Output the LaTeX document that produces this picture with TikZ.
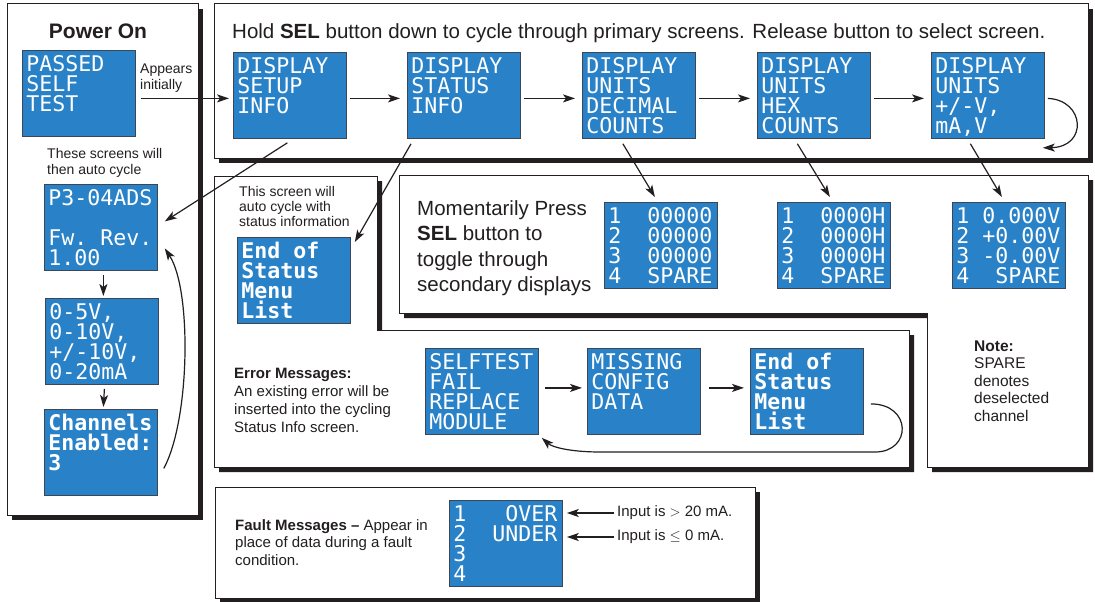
\documentclass[tikz,border=0pt]{standalone}
\usepackage{fontspec}
\setmainfont{Liberation Sans}
\newfontfamily\lcdfam{DejaVu Sans Mono}
\usetikzlibrary{arrows.meta}
\definecolor{lcdblue}{RGB}{41,130,199}
\definecolor{lcdedge}{RGB}{60,70,85}
\definecolor{ink}{RGB}{35,31,32}
\newcommand{\lcd}[1]{\begin{minipage}[t][86pt][t]{105pt}\fontsize{21.6}{20}\selectfont\lcdfam\lineskiplimit=-100pt\lineskip=0pt\color{white}\rule{0pt}{21pt}#1\end{minipage}}
\newcommand{\lcdb}[1]{\begin{minipage}[t][86pt][t]{105pt}\fontsize{21.6}{20}\selectfont\lcdfam\bfseries\lineskiplimit=-100pt\lineskip=0pt\color{white}\rule{0pt}{21pt}#1\end{minipage}}
\begin{document}
\begin{tikzpicture}[x=1pt,y=-1pt,
  frame/.style={fill=white, draw=ink, line width=1pt},
  shade/.style={fill=ink},
  screen/.style={fill=lcdblue, draw=lcdedge, line width=0.8pt, inner xsep=4pt, inner ysep=0pt, anchor=north west},
  arr/.style={draw=ink, line width=1.2pt, -{Stealth[length=12pt,width=8pt,inset=3pt]}},
  lbl/.style={inner sep=0pt, anchor=base west, text=ink}]
\useasboundingbox (0,0) rectangle (1095,602);
% frames with drop shadows
\fill[shade, shift={(5,5)}] (7,4) rectangle (198,515);
\draw[frame] (7,4) rectangle (198,515);
\fill[shade, shift={(5,5)}] (214,4) rectangle (1088,158);
\draw[frame] (214,4) rectangle (1088,158);
\fill[shade, shift={(5,5)}] (214,176) -- (377,176) -- (377,330) -- (909,330) -- (909,467) -- (214,467) -- cycle;
\draw[frame] (214,176) -- (377,176) -- (377,330) -- (909,330) -- (909,467) -- (214,467) -- cycle;
\fill[shade, shift={(5,5)}] (399,175) -- (1088,175) -- (1088,467) -- (927,467) -- (927,313) -- (399,313) -- cycle;
\draw[frame] (399,175) -- (1088,175) -- (1088,467) -- (927,467) -- (927,313) -- (399,313) -- cycle;
\fill[shade, shift={(5,5)}] (215,487) rectangle (755,598);
\draw[frame] (215,487) rectangle (755,598);
% texts
\node[lbl, anchor=base, font=\bfseries\fontsize{21}{24}\selectfont] (pon) at (98,39) {Power On};
\node[lbl, font=\fontsize{20.5}{24}\selectfont] (hold) at (232,39) {Hold \textbf{SEL} button down to cycle through primary screens. Release button to select screen.};
\node[lbl, font=\fontsize{14}{16}\selectfont] (app) at (140,74) {\parbox[t]{60pt}{Appears\\initially}};
\node[lbl, font=\fontsize{14}{16}\selectfont] (these) at (47,158) {\parbox[t]{140pt}{These screens will\\then auto cycle}};
\node[lbl, font=\fontsize{14}{15}\selectfont] (this) at (239,196) {\parbox[t]{135pt}{This screen will\\auto cycle with\\status information}};
\node[lbl, font=\fontsize{20.5}{25.5}\selectfont] (mom) at (417,215) {\parbox[t]{190pt}{Momentarily Press\\\textbf{SEL} button to\\toggle through\\secondary displays}};
\node[lbl, font=\fontsize{15}{18}\selectfont] (errt) at (234,378) {\parbox[t]{185pt}{\textbf{Error Messages:}\\An existing error will be\\inserted into the cycling\\Status Info screen.}};
\node[lbl, font=\fontsize{15.5}{17.5}\selectfont] (note) at (974,351) {\parbox[t]{100pt}{\textbf{Note:}\\SPARE\\denotes\\deselected\\channel}};
\node[lbl, font=\fontsize{15}{17.5}\selectfont] (fltt) at (235,530) {\parbox[t]{210pt}{\textbf{Fault Messages –} Appear in\\place of data during a fault\\condition.}};
\node[lbl, anchor=west, font=\fontsize{15}{18}\selectfont] (in1) at (617,513) {Input is $>$ 20 mA.};
\node[lbl, anchor=west, font=\fontsize{15}{18}\selectfont] (in2) at (617,537) {Input is $\le$ 0 mA.};
% screens
\node[screen] (pst) at (22,50) {\lcd{PASSED\\SELF\\TEST}};
\node[screen] (p3) at (44,184) {\lcd{P3-04ADS\\\mbox{}\\Fw.\ Rev.\\1.00}};
\node[screen] (rng) at (45,298) {\lcd{0-5V,\\0-10V,\\+/-10V,\\0-20mA}};
\node[screen] (chn) at (44,409) {\lcdb{Channels\\Enabled:\\3}};
\node[screen] (ds1) at (233,52) {\lcd{DISPLAY\\SETUP\\INFO}};
\node[screen] (ds2) at (407,52) {\lcd{DISPLAY\\STATUS\\INFO}};
\node[screen] (ds3) at (582,52) {\lcd{DISPLAY\\UNITS\\DECIMAL\\COUNTS}};
\node[screen] (ds4) at (757,52) {\lcd{DISPLAY\\UNITS\\HEX\\COUNTS}};
\node[screen] (ds5) at (931,52) {\lcd{DISPLAY\\UNITS\\+/-V,\\mA,V}};
\node[screen] (eos) at (237,237) {\lcdb{End of\\Status\\Menu\\List}};
\node[screen] (sec1) at (604,202) {\lcd{1\ \ 00000\\2\ \ 00000\\3\ \ 00000\\4\ \ SPARE}};
\node[screen] (sec2) at (777,202) {\lcd{1\ \ 0000H\\2\ \ 0000H\\3\ \ 0000H\\4\ \ SPARE}};
\node[screen] (sec3) at (952,202) {\lcd{1 0.000V\\2 +0.00V\\3 -0.00V\\4\ \ SPARE}};
\node[screen] (err1) at (425,348) {\lcd{SELFTEST\\FAIL\\REPLACE\\MODULE}};
\node[screen] (err2) at (587,348) {\lcd{MISSING\\CONFIG\\DATA}};
\node[screen] (err3) at (750,348) {\lcdb{End of\\Status\\Menu\\List}};
\node[screen] (flt) at (449,500) {\lcd{1\ \ \ OVER\\2\ \ UNDER\\3\\4}};
% connectors
\draw[arr] ([shift={(5,5)}]pst.east) -- ([shift={(-4,3)}]ds1.west);
\draw[arr] ([shift={(3,3)}]ds1.east) -- ([shift={(-7,3)}]ds2.west);
\draw[arr] ([shift={(3,3)}]ds2.east) -- ([shift={(-7,3)}]ds3.west);
\draw[arr] ([shift={(3,3)}]ds3.east) -- ([shift={(-7,3)}]ds4.west);
\draw[arr] ([shift={(3,3)}]ds4.east) -- ([shift={(-7,3)}]ds5.west);
\draw[arr] ([shift={(3,3)}]ds5.east) .. controls (1085,100) and (1088,147) .. ([shift={(-2,9)}]ds5.south east);
\draw[arr] ([shift={(-16,5)}]ds3.south) -- ([shift={(-6,-5)}]sec1.north);
\draw[arr] ([shift={(-16.5,5)}]ds4.south) -- ([shift={(-4,-5)}]sec2.north);
\draw[arr] ([shift={(-17.5,5)}]ds5.south) -- ([shift={(-7,-5)}]sec3.north);
\draw[arr] ([shift={(-2.5,4)}]ds1.south) -- ([shift={(7,-6)}]p3.east);
\draw[arr] ([shift={(4,5)}]ds2.south west) -- ([shift={(4,5)}]eos.north east);
\draw[arr] ([shift={(2.5,4)}]p3.south) -- ([shift={(1.5,-2)}]rng.north);
\draw[arr] ([shift={(2.5,4)}]rng.south) -- ([shift={(2.5,-2)}]chn.north);
\draw[arr] ([shift={(6,16)}]chn.east) .. controls (190,420) and (192,290) .. ([shift={(7,21)}]p3.east);
\draw[arr] ([shift={(6,-3.5)}]err1.east) -- ([shift={(-5,-3.5)}]err2.west);
\draw[arr] ([shift={(8,-3.5)}]err2.east) -- ([shift={(-6,-3.5)}]err3.west);
\draw[arr] ([shift={(7,12.5)}]err3.east) .. controls (912,404) and (912,452) .. (875,452) -- (600,452) .. controls (570,452) and (552,447) .. ([shift={(3,3)}]err1.south east);
\draw[arr] ([xshift=-3pt]in1.west) -- ([shift={(4,13)}]flt.north east);
\draw[arr] ([xshift=-3pt]in2.west) -- ([shift={(4,37)}]flt.north east);
\end{tikzpicture}
\end{document}
